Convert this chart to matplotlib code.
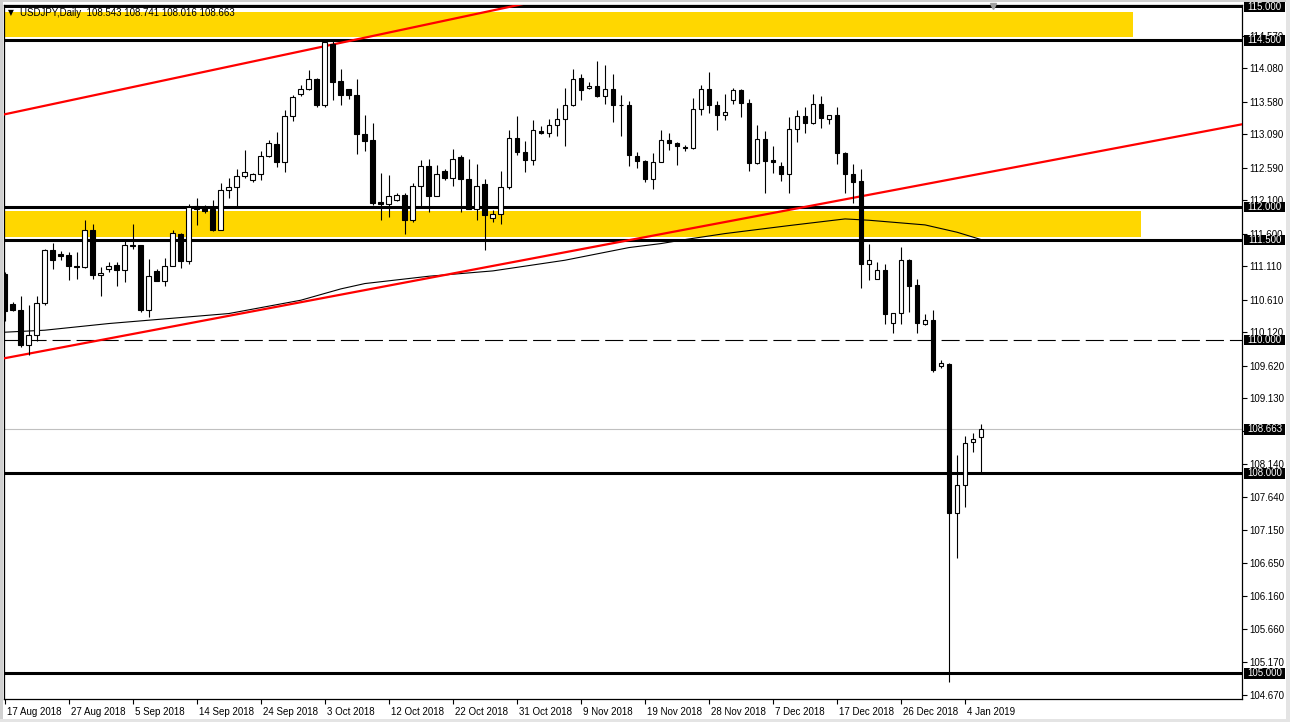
import matplotlib
matplotlib.use('Agg')
import matplotlib.pyplot as plt
from matplotlib.patches import Rectangle
from matplotlib.transforms import blended_transform_factory, ScaledTranslation

plt.rcParams['font.family'] = ['Liberation Sans', 'DejaVu Sans']
plt.rcParams['lines.scale_dashes'] = False

# ---------------- data ----------------
opens = [111.00, 110.55, 110.46, 109.925, 110.085, 110.56, 111.35, 111.30, 111.275, 111.115,
         111.10, 111.66, 110.985, 111.075, 111.125, 111.06, 111.435, 111.425, 110.46, 111.035,
         110.89, 111.12, 111.60, 111.19, 112.015, 112.00, 111.965, 111.65, 112.26, 112.30,
         112.47, 112.41, 112.50, 112.76, 112.95, 112.675, 113.37, 113.70, 113.775, 113.925,
         113.525, 114.45, 113.885, 113.765, 113.685, 113.10, 113.00, 112.07, 112.05, 112.11,
         112.185, 111.81, 112.32, 112.61, 112.165, 112.545, 112.44, 112.745, 112.425, 111.975,
         112.34, 111.84, 111.90, 112.305, 113.04, 112.825, 112.71, 113.135, 113.115, 113.235,
         113.315, 113.535, 113.94, 113.79, 113.82, 113.665, 113.775, 113.535, 113.53, 112.76,
         112.695, 112.425, 112.68, 113.01, 112.965, 112.90, 112.885, 113.475, 113.775, 113.535,
         113.385, 113.61, 113.75, 113.565, 112.66, 113.025, 112.70, 112.61, 112.50, 113.175,
         113.36, 113.26, 113.55, 113.325, 113.385, 112.815, 112.50, 112.385, 111.15, 110.92,
         111.05, 110.265, 110.415, 111.20, 110.825, 110.25, 110.30, 109.62, 109.65, 107.40,
         107.825, 108.475, 108.543]
highs = [111.03, 110.575, 110.66, 110.525, 110.66, 111.375, 111.46, 111.34, 111.325, 111.325,
         111.80, 111.74, 111.10, 111.17, 111.17, 111.51, 111.74, 111.435, 111.225, 111.065,
         111.235, 111.65, 111.615, 112.04, 112.14, 112.025, 112.10, 112.365, 112.435, 112.565,
         112.85, 112.51, 112.835, 113.00, 113.12, 113.45, 113.675, 113.825, 114.05, 113.93,
         114.525, 114.50, 114.075, 113.77, 113.925, 113.375, 113.265, 112.515, 112.475, 112.215,
         112.21, 112.365, 112.70, 112.715, 112.625, 112.575, 112.865, 112.775, 112.715, 112.65,
         112.425, 111.95, 112.535, 113.15, 113.36, 112.985, 113.30, 113.21, 113.315, 113.485,
         113.79, 114.065, 113.99, 113.875, 114.185, 114.125, 113.99, 113.685, 113.585, 112.825,
         112.70, 112.815, 113.15, 113.11, 112.975, 112.925, 113.635, 113.825, 114.025, 113.585,
         113.70, 113.79, 113.775, 113.615, 113.225, 113.135, 112.915, 112.675, 113.35, 113.45,
         113.50, 113.69, 113.66, 113.385, 113.50, 112.82, 112.65, 112.575, 111.44, 111.17,
         111.14, 110.415, 111.40, 111.215, 110.915, 110.39, 110.45, 109.70, 109.655, 108.275,
         108.56, 108.61, 108.741]
lows = [110.29, 110.44, 109.90, 109.775, 109.99, 110.525, 111.075, 111.20, 110.91, 110.925,
        111.085, 110.925, 110.66, 111.025, 110.815, 110.875, 111.375, 110.425, 110.35, 110.89,
        110.815, 111.115, 111.085, 111.15, 111.735, 111.915, 111.64, 111.65, 112.14, 112.015,
        112.435, 112.375, 112.40, 112.75, 112.60, 112.525, 113.29, 113.665, 113.76, 113.50,
        113.50, 113.60, 113.525, 113.625, 112.80, 112.84, 112.035, 111.81, 111.85, 112.09,
        111.60, 111.775, 112.00, 111.925, 112.165, 112.40, 112.315, 111.925, 111.975, 111.80,
        111.35, 111.775, 111.75, 112.275, 112.775, 112.525, 112.635, 113.10, 113.05, 113.065,
        112.915, 113.515, 113.60, 113.765, 113.65, 113.54, 113.275, 113.065, 112.615, 112.59,
        112.375, 112.275, 112.675, 112.85, 112.625, 112.84, 112.865, 113.375, 113.41, 113.15,
        113.30, 113.54, 113.35, 112.535, 112.64, 112.21, 112.51, 112.385, 112.21, 112.975,
        113.11, 113.25, 113.185, 113.24, 112.64, 112.215, 112.06, 110.79, 110.91, 110.92,
        110.25, 110.115, 110.25, 110.425, 110.115, 110.23, 109.525, 109.59, 104.865, 106.725,
        107.49, 108.325, 108.016]
closes = [110.44, 110.46, 109.925, 110.085, 110.56, 111.35, 111.21, 111.265, 111.115, 111.10,
          111.66, 110.975, 111.015, 111.12, 111.06, 111.435, 111.41, 110.45, 110.97, 110.89,
          111.12, 111.615, 111.19, 112.00, 111.965, 111.94, 111.65, 112.26, 112.30, 112.47,
          112.525, 112.50, 112.76, 112.965, 112.675, 113.37, 113.65, 113.775, 113.925, 113.525,
          114.475, 113.875, 113.685, 113.685, 113.10, 112.99, 112.065, 112.045, 112.17, 112.185,
          111.81, 112.32, 112.61, 112.165, 112.49, 112.44, 112.725, 112.425, 111.975, 112.32,
          111.885, 111.90, 112.305, 113.04, 112.825, 112.71, 113.16, 113.115, 113.235, 113.325,
          113.535, 113.925, 113.76, 113.82, 113.665, 113.775, 113.535, 113.53, 112.785, 112.69,
          112.425, 112.68, 113.01, 112.965, 112.915, 112.885, 113.475, 113.775, 113.535, 113.375,
          113.43, 113.75, 113.565, 112.66, 113.025, 112.69, 112.675, 112.50, 113.175, 113.36,
          113.26, 113.55, 113.34, 113.385, 112.81, 112.50, 112.375, 111.15, 111.21, 111.05,
          110.40, 110.415, 111.20, 110.815, 110.26, 110.30, 109.55, 109.66, 107.40, 107.825,
          108.45, 108.525, 108.663]

date_labels = ['17 Aug 2018', '27 Aug 2018', '5 Sep 2018', '14 Sep 2018', '24 Sep 2018',
               '3 Oct 2018', '12 Oct 2018', '22 Oct 2018', '31 Oct 2018', '9 Nov 2018',
               '19 Nov 2018', '28 Nov 2018', '7 Dec 2018', '17 Dec 2018', '26 Dec 2018',
               '4 Jan 2019']
date_label_bars = [0, 8, 16, 24, 32, 40, 48, 56, 64, 72, 80, 88, 96, 104, 112, 120]

price_ticks = [104.670, 105.170, 105.660, 106.160, 106.650, 107.150, 107.640, 108.140,
               108.640, 109.130, 109.620, 110.120, 110.610, 111.110, 111.600, 112.100,
               112.590, 113.090, 113.580, 114.080, 114.570]

level_lines = [114.5, 112.0, 111.5, 108.0, 105.0]
top_level = 115.0
dashed_level = 110.0
bid_price = 108.663
boxed_levels = [115.0, 114.5, 112.0, 111.5, 110.0, 108.663, 108.0, 105.0]

zone_low = [114.545, 111.55]
zone_high = [114.92, 111.94]
zone_end_bar = [141.0, 142.0]

ma_bars = [0, 5, 13, 28, 37, 42, 45, 53, 61, 70, 78, 82, 85, 90, 98, 105, 108, 112, 115, 119, 122]
ma_vals = [110.12, 110.15, 110.25, 110.40, 110.60, 110.77, 110.85, 110.96, 111.04, 111.20,
           111.39, 111.45, 111.51, 111.60, 111.72, 111.82, 111.80, 111.76, 111.73, 111.62, 111.51]

trend1_bars = [0, 63]
trend1_vals = [113.39, 115.0]
trend2_bars = [0, 154.6]
trend2_vals = [109.73, 113.24]

title_text = 'USDJPY,Daily  108.543 108.741 108.016 108.663'

# ---------------- figure ----------------
W, H = 1290, 722
fig = plt.figure(figsize=(W / 100, H / 100), dpi=100)
fig.patch.set_facecolor('white')
x_left_px, x_right_px = 3.5, 1242.0
y_top_px, y_bot_px = 5.0, 699.0
ax = fig.add_axes([x_left_px / W, 1 - y_bot_px / H,
                   (x_right_px - x_left_px) / W, (y_bot_px - y_top_px) / H])
ax.set_facecolor('white')

x_min, x_max = -0.15, 154.6
y_min, y_max = 104.616, 115.03
ax.set_xlim(x_min, x_max)
ax.set_ylim(y_min, y_max)

px_per_bar = (x_right_px - x_left_px) / (x_max - x_min)
px_per_yen = (y_bot_px - y_top_px) / (y_max - y_min)

# yellow zones
for lo, hi, xe in zip(zone_low, zone_high, zone_end_bar):
    ax.add_patch(Rectangle((x_min - 1, lo), xe - (x_min - 1), hi - lo,
                           facecolor='#FFD700', edgecolor='none', zorder=1))

# horizontal levels
for lv in level_lines:
    ax.axhline(lv, color='black', lw=2.2, zorder=2)
ax.axhline(top_level, color='black', lw=1.4, zorder=2)
ax.axhline(dashed_level, color='black', lw=0.8, ls=(0, (13, 4.3)), zorder=2)
ax.axhline(bid_price, color='#C0C0C0', lw=0.8, zorder=2)

# moving average
ax.plot(ma_bars, ma_vals, color='black', lw=0.8, zorder=3)

# trend lines (extended as rays)
for bx, vals, ext in ((trend1_bars, trend1_vals, (-5, 80)), (trend2_bars, trend2_vals, (-5, 160))):
    slope = (vals[1] - vals[0]) / (bx[1] - bx[0])
    xs = [ext[0], ext[1]]
    ys = [vals[0] + slope * (xv - bx[0]) for xv in xs]
    ax.plot(xs, ys, color='#FF0000', lw=1.6, zorder=3, solid_capstyle='butt')

# candles
body_w = 0.6
for i, (o, h, l, c) in enumerate(zip(opens, highs, lows, closes)):
    ax.vlines(i, l, h, color='black', lw=0.8, zorder=4)
    bull = c > o
    bottom = min(o, c)
    height = abs(c - o)
    ax.add_patch(Rectangle((i - body_w / 2, bottom), body_w, height,
                           facecolor='white' if bull else 'black',
                           edgecolor='black', lw=0.8, zorder=5))

# axes frame
for side in ['top', 'bottom', 'left', 'right']:
    ax.spines[side].set_color('black')
    ax.spines[side].set_linewidth(0.9)

# right price axis
ax.yaxis.tick_right()
ax.set_yticks(price_ticks)
ax.set_yticklabels(['%.3f' % v for v in price_ticks])
ax.tick_params(axis='y', direction='out', length=3.5, width=0.8, labelsize=7, pad=2,
               colors='black')

# bottom date axis
ax.set_xticks(date_label_bars)
ax.set_xticklabels(date_labels)
ax.tick_params(axis='x', direction='out', length=3.5, width=0.8, labelsize=7, pad=2,
               colors='black')
off = ScaledTranslation(2 / 100, 0, fig.dpi_scale_trans)
for lab in ax.get_xticklabels():
    lab.set_horizontalalignment('left')
    lab.set_transform(lab.get_transform() + off)

# price boxes on right axis
bt = blended_transform_factory(ax.transAxes, ax.transData)
ax_w_px = x_right_px - x_left_px
bx0 = (1244 - x_left_px) / ax_w_px
bw = 41 / ax_w_px
bh = 10.5 / px_per_yen
for lv in boxed_levels:
    ax.add_patch(Rectangle((bx0, lv - bh / 2), bw, bh, transform=bt, facecolor='black',
                           edgecolor='none', clip_on=False, zorder=10))
    ax.text(bx0 + bw / 2, lv, '%.3f' % lv, transform=bt, color='white', fontsize=7,
            ha='center', va='center', zorder=11, clip_on=False)

# title
ax.text(4.5 / ax_w_px, 1 - 8 / (y_bot_px - y_top_px), '\u25BC', transform=ax.transAxes,
        fontsize=5.5, ha='left', va='center', family=['DejaVu Sans'], zorder=12)
ax.text(17 / ax_w_px, 1 - 8 / (y_bot_px - y_top_px), title_text, transform=ax.transAxes,
        fontsize=7, ha='left', va='center', zorder=12)

# chart-shift marker (small grey triangle at top)
ax.plot([123.5], [y_max - 0.02], marker='v', color='#A0A0A0', markersize=5, clip_on=False,
        zorder=12)

# window frame
fig.patches.append(Rectangle((0, 0), 2.5 / W, 1, transform=fig.transFigure,
                             facecolor='#D0D0D0', edgecolor='none'))
fig.patches.append(Rectangle((0, 1 - 1.5 / H), 1, 1.5 / H, transform=fig.transFigure,
                             facecolor='#D0D0D0', edgecolor='none'))
fig.patches.append(Rectangle((1 - 4 / W, 0), 4 / W, 1, transform=fig.transFigure,
                             facecolor='#E4E4E4', edgecolor='none'))
fig.patches.append(Rectangle((0, 0), 1, 3 / H, transform=fig.transFigure,
                             facecolor='#E4E4E4', edgecolor='none'))

fig.savefig('out.png', dpi=100)
